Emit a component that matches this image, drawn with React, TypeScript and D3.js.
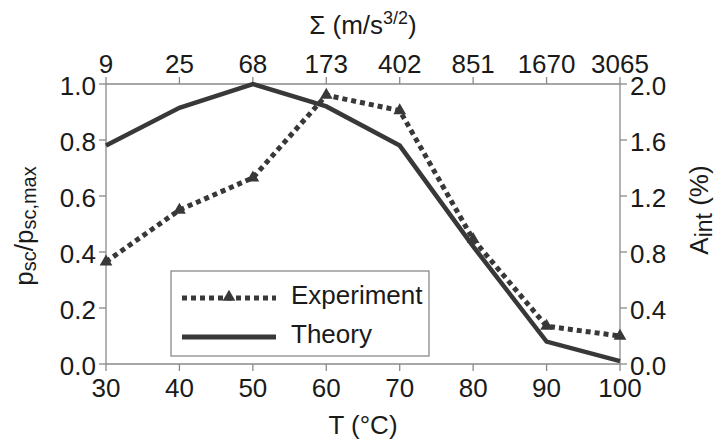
import React from "react";
import * as d3 from "d3";

const temps = [30, 40, 50, 60, 70, 80, 90, 100];
const sigmaLabels = ["9", "25", "68", "173", "402", "851", "1670", "3065"];
const theory = [0.78, 0.915, 1.0, 0.92, 0.78, 0.42, 0.08, 0.01];
const experiment = [0.73, 1.1, 1.33, 1.92, 1.81, 0.89, 0.27, 0.2];
const leftTicks = [0, 0.2, 0.4, 0.6, 0.8, 1.0];
const rightTicks = [0, 0.4, 0.8, 1.2, 1.6, 2.0];

const W = 721;
const H = 440;
const M = { left: 106, right: 620, top: 84, bottom: 364 };
const FONT = "'Liberation Sans', Arial, sans-serif";
const LINE = "#383838";
const AXIS = "#8a8a8a";
const TEXT = "#1a1a1a";

export default function App() {
  const x = d3.scaleLinear().domain([30, 100]).range([M.left, M.right]);
  const yL = d3.scaleLinear().domain([0, 1]).range([M.bottom, M.top]);
  const yR = d3.scaleLinear().domain([0, 2]).range([M.bottom, M.top]);

  const theoryLine = d3
    .line<number>()
    .x((_, i) => x(temps[i]))
    .y((d) => yL(d))(theory) as string;
  const expLine = d3
    .line<number>()
    .x((_, i) => x(temps[i]))
    .y((d) => yR(d))(experiment) as string;
  const tri = d3.symbol(d3.symbolTriangle, 70)() as string;

  const fs = 26;
  return (
    <svg
      width={W}
      height={H}
      style={{ position: "absolute", left: 0, top: 0, background: "#fff" }}
      fontFamily={FONT}
    >
      {/* axes lines */}
      <g stroke={AXIS} strokeWidth={1.3} fill="none">
        <line x1={M.left} x2={M.right} y1={M.top} y2={M.top} />
        <line x1={M.left} x2={M.right} y1={M.bottom} y2={M.bottom} />
        <line x1={M.left} x2={M.left} y1={M.top} y2={M.bottom} />
        <line x1={M.right} x2={M.right} y1={M.top} y2={M.bottom} />
        {temps.map((t) => (
          <g key={"t" + t}>
            <line x1={x(t)} x2={x(t)} y1={M.bottom} y2={M.bottom + 7} />
            <line x1={x(t)} x2={x(t)} y1={M.top} y2={M.top - 7} />
          </g>
        ))}
        {leftTicks.map((v) => (
          <line key={"l" + v} x1={M.left - 7} x2={M.left} y1={yL(v)} y2={yL(v)} />
        ))}
        {rightTicks.map((v) => (
          <line key={"r" + v} x1={M.right} x2={M.right + 7} y1={yR(v)} y2={yR(v)} />
        ))}
      </g>

      {/* tick labels */}
      <g fontSize={fs} fill={TEXT}>
        {temps.map((t) => (
          <text key={"bt" + t} x={x(t)} y={M.bottom + 33} textAnchor="middle">
            {t}
          </text>
        ))}
        {temps.map((t, i) => (
          <text key={"tt" + t} x={x(t)} y={M.top - 11} textAnchor="middle">
            {sigmaLabels[i]}
          </text>
        ))}
        {leftTicks.map((v) => (
          <text key={"lt" + v} x={M.left - 10} y={yL(v) + 10.5} textAnchor="end">
            {v.toFixed(1)}
          </text>
        ))}
        {rightTicks.map((v) => (
          <text key={"rt" + v} x={M.right + 10} y={yR(v) + 10.5} textAnchor="start">
            {v.toFixed(1)}
          </text>
        ))}
      </g>

      {/* axis titles */}
      <g fontSize={fs} fill={TEXT}>
        <text x={(M.left + M.right) / 2} y={434} textAnchor="middle">
          T (°C)
        </text>
        <text x={(M.left + M.right) / 2} y={34} textAnchor="middle">
          Σ (m/s
          <tspan fontSize={18} dy={-10}>
            3/2
          </tspan>
          <tspan dy={10}>)</tspan>
        </text>
        <text transform={`translate(33,226) rotate(-90)`} textAnchor="middle">
          p
          <tspan fontSize={20} dy={3}>
            sc
          </tspan>
          <tspan dy={-3}>/p</tspan>
          <tspan fontSize={20} dy={3}>
            sc,max
          </tspan>
        </text>
        <text transform={`translate(708,210) rotate(-90)`} textAnchor="middle">
          A
          <tspan fontSize={23} dy={4}>
            int
          </tspan>
          <tspan dy={-4}> (%)</tspan>
        </text>
      </g>

      {/* data */}
      <path d={theoryLine} fill="none" stroke={LINE} strokeWidth={4.5} strokeLinejoin="miter" />
      <path d={expLine} fill="none" stroke={LINE} strokeWidth={5} strokeDasharray="5,4" />
      {experiment.map((v, i) => (
        <path
          key={"m" + i}
          d={tri}
          transform={`translate(${x(temps[i])},${yR(v)})`}
          fill={LINE}
        />
      ))}

      {/* legend */}
      <g>
        <rect x={171} y={271} width={258} height={85} fill="#fff" stroke={AXIS} strokeWidth={1.3} />
        <line x1={182} x2={276} y1={298} y2={298} stroke={LINE} strokeWidth={5} strokeDasharray="5,4" />
        <path d={tri} transform="translate(229,297)" fill={LINE} />
        <line x1={182} x2={276} y1={337} y2={337} stroke={LINE} strokeWidth={5} />
        <text x={291} y={304} fontSize={fs} fill={TEXT}>
          Experiment
        </text>
        <text x={291} y={343} fontSize={fs} fill={TEXT}>
          Theory
        </text>
      </g>
    </svg>
  );
}
